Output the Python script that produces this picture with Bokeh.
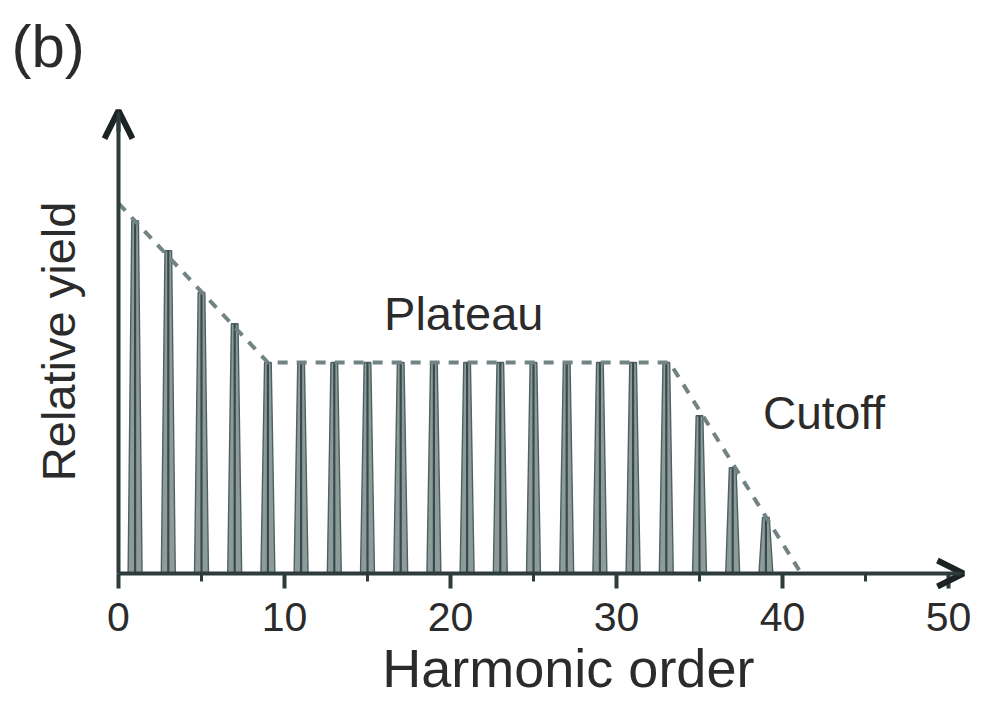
import math
from bokeh.plotting import figure
from bokeh.models import Range1d, Label, Arrow, OpenHead, FixedTicker
from bokeh.embed import file_html
from bokeh.resources import INLINE

# ---- data ----
harmonics = [1, 3, 5, 7, 9, 11, 13, 15, 17, 19, 21, 23, 25, 27, 29, 31, 33, 35, 37, 39]
yields = [0.836, 0.765, 0.666, 0.592, 0.50, 0.50, 0.50, 0.50, 0.50, 0.50,
          0.50, 0.50, 0.50, 0.50, 0.50, 0.50, 0.50, 0.374, 0.251, 0.133]
envelope_x = [0, 9, 33.2, 41]
envelope_y = [0.877, 0.50, 0.50, 0.008]
major_ticks = [0, 10, 20, 30, 40, 50]
minor_ticks = [5, 15, 25, 35, 45]
x_axis_end = 50.9
y_axis_end = 1.097

FONT = "Liberation Sans"
TXT = "#2b2b2b"
AX = "#2e3b3b"

p = figure(width=981, height=704, min_border=0,
           x_range=Range1d(-7.108, 51.988), y_range=Range1d(-0.3104, 1.3578),
           output_backend="svg", toolbar_location=None, background_fill_color="white")
p.outline_line_color = None
p.grid.visible = False

# peaks as narrow trapezoids
half_base, half_top = 0.42, 0.2
xs = [[h - half_base, h - half_top, h + half_top, h + half_base] for h in harmonics]
ys = [[0, v, v, 0] for v in yields]
p.patches(xs=xs, ys=ys, fill_color="#8d9c9a", line_color="#4e6161", line_width=1.4)
p.segment(x0=harmonics, y0=[0] * len(harmonics), x1=harmonics, y1=yields,
          line_color="#3a4a4a", line_width=2.2)

# dashed envelope
p.line(envelope_x, envelope_y, line_color="#718382", line_width=4, line_dash="10 9")

# axes, fixed at the origin
xa = p.xaxis[0]
xa.fixed_location = 0
xa.ticker = FixedTicker(ticks=major_ticks, minor_ticks=minor_ticks)
xa.bounds = (0, x_axis_end)
xa.axis_line_width = 4
xa.axis_line_color = AX
xa.major_tick_line_width = 4
xa.major_tick_line_color = AX
xa.major_tick_out = 15
xa.major_tick_in = 0
xa.minor_tick_line_width = 3
xa.minor_tick_line_color = AX
xa.minor_tick_out = 8
xa.minor_tick_in = 0
xa.major_label_text_font = FONT
xa.major_label_text_font_size = "41px"
xa.major_label_text_color = TXT
xa.major_label_standoff = 14

ya = p.yaxis[0]
ya.fixed_location = 0
ya.bounds = (0, y_axis_end)
ya.axis_line_width = 4
ya.axis_line_color = AX
ya.major_tick_line_color = None
ya.minor_tick_line_color = None
ya.major_label_text_font_size = "0px"
ya.major_label_text_color = None

# arrow heads
p.add_layout(Arrow(end=OpenHead(size=26, line_width=6, line_color="#1b2323"),
                   x_start=x_axis_end - 0.6, y_start=0, x_end=x_axis_end, y_end=0,
                   line_width=4, line_color=AX))
p.add_layout(Arrow(end=OpenHead(size=28, line_width=6, line_color="#1b2323"),
                   x_start=0, y_start=y_axis_end - 0.05, x_end=0, y_end=y_axis_end,
                   line_width=4, line_color=AX))

# axis titles and annotations
p.add_layout(Label(x=27.1, y=-0.225, text="Harmonic order", text_align="center",
                   text_baseline="middle", text_font=FONT, text_font_size="54px", text_color=TXT))
p.add_layout(Label(x=-3.6, y=0.55, text="Relative yield", text_align="center", angle=math.pi / 2,
                   text_baseline="middle", text_font=FONT, text_font_size="47px", text_color=TXT))
p.add_layout(Label(x=20.8, y=0.615, text="Plateau", text_align="center", text_baseline="middle",
                   text_font=FONT, text_font_size="47px", text_color=TXT))
p.add_layout(Label(x=42.5, y=0.380, text="Cutoff", text_align="center", text_baseline="middle",
                   text_font=FONT, text_font_size="46px", text_color=TXT))
p.add_layout(Label(x=-6.45, y=1.249, text="(b)", text_align="left", text_baseline="middle",
                   text_font=FONT, text_font_size="60px", text_color=TXT))

open("out.html", "w").write(file_html(p, INLINE))
